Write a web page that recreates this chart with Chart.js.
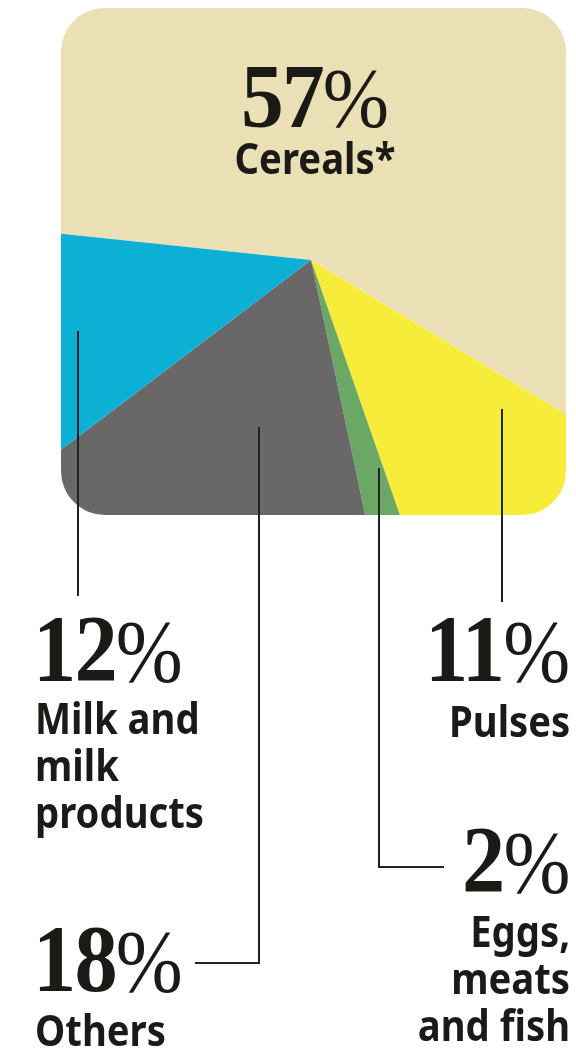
<!DOCTYPE html>
<html>
<head>
<meta charset="utf-8">
<script src="https://cdn.jsdelivr.net/npm/chart.js@4"></script>
<style>
  html, body { margin: 0; padding: 0; background: #fff; }
  #page { position: relative; width: 576px; height: 1051px; overflow: hidden; }
  #pieClip { position: absolute; left: 61px; top: 8px; width: 505px; height: 507px;
             border-radius: 44px; overflow: hidden; }
  #pieCanvas { position: absolute; left: -130px; top: -128px; }
  .line { position: absolute; background: #222; }
  .num { position: absolute; font-family: "Liberation Serif", "DejaVu Serif", serif; font-weight: bold;
         color: #1b1a17; white-space: nowrap; letter-spacing: -2px; }
  .num .pc { font-weight: normal; font-size: 0.93em; letter-spacing: 0; }
  .txt { position: absolute; font-family: "Noto Sans", "Open Sans", sans-serif; font-weight: bold;
         color: #1b1a17; font-size: 43px; line-height: 47px; white-space: nowrap; }
  .left { transform-origin: left top; text-align: left; }
  .right { transform-origin: right top; text-align: right; }
  .center { transform-origin: center top; text-align: center; }
</style>
</head>
<body>
<div id="page">
  <div id="pieClip"><canvas id="pieCanvas" width="760" height="760"></canvas></div>
  <div id="labels"></div>
</div>
<script>
// datos del gráfico
const categories = ['Cereals*', 'Pulses', 'Eggs, meats and fish', 'Others', 'Milk and milk products'];
const shares = [57, 11, 2, 18, 12];
const sliceColors = ['#ebdfb5', '#f8ec3a', '#6ba866', '#696767', '#0db0d5'];
const labelLines = [['Cereals*'], ['Pulses'], ['Eggs,', 'meats', 'and fish'], ['Others'], ['Milk and', 'milk', 'products']];

const ctx = document.getElementById('pieCanvas').getContext('2d');
const pieChart = new Chart(ctx, {
    type: 'pie',
    data: {
        labels: categories,
        datasets: [{
            data: shares,
            backgroundColor: sliceColors,
            borderWidth: 0
        }]
    },
    options: {
        responsive: false,
        animation: false,
        events: [],
        rotation: 276, // el cereal empieza a la izquierda
        plugins: {
            legend: { display: false },
            tooltip: { enabled: false }
        }
    }
});

// líneas guía (x, y1, y2) y tramos horizontales
const page = document.getElementById('page');
function vLine(x, y1, y2) {
    const d = document.createElement('div');
    d.className = 'line';
    d.style.left = (x - 1) + 'px';
    d.style.top = y1 + 'px';
    d.style.width = '2px';
    d.style.height = (y2 - y1) + 'px';
    page.appendChild(d);
}
function hLine(x1, x2, y) {
    const d = document.createElement('div');
    d.className = 'line';
    d.style.left = x1 + 'px';
    d.style.top = (y - 1) + 'px';
    d.style.width = (x2 - x1) + 'px';
    d.style.height = '2px';
    page.appendChild(d);
}
vLine(78, 331, 596);   // leche
vLine(259, 427, 964);  // otros
hLine(195, 260, 963);
vLine(379, 468, 868);  // huevos
hLine(379, 444, 867);
vLine(502, 409, 602);  // legumbres

// etiquetas
function addLabel(i, opts) {
    const n = document.createElement('div');
    n.className = 'num ' + opts.align;
    n.innerHTML = shares[i] + '<span class="pc">%</span>';
    n.style.fontSize = opts.size + 'px';
    n.style.lineHeight = opts.size + 'px';
    n.style.top = opts.numTop + 'px';
    n.style.transform = 'scaleX(' + opts.sx + ')';
    const t = document.createElement('div');
    t.className = 'txt ' + opts.align;
    t.innerHTML = labelLines[i].join('<br>');
    t.style.top = opts.txtTop + 'px';
    t.style.transform = 'scaleX(0.89)';
    if (opts.align === 'left') {
        n.style.left = opts.x + 'px';
        t.style.left = (opts.x + 2) + 'px';
    } else if (opts.align === 'right') {
        n.style.right = (576 - opts.x) + 'px';
        t.style.right = (576 - opts.x) + 'px';
    } else {
        n.style.left = (opts.x - 200) + 'px';
        n.style.width = '400px';
        t.style.left = (opts.x - 200) + 'px';
        t.style.width = '400px';
    }
    page.appendChild(n);
    page.appendChild(t);
}
addLabel(0, { align: 'center', x: 315, size: 90, numTop: 52, txtTop: 134, sx: 0.95 });
addLabel(4, { align: 'left', x: 33, size: 96, numTop: 601, txtTop: 694, sx: 0.9 });
addLabel(3, { align: 'left', x: 33, size: 96, numTop: 911, txtTop: 1006, sx: 0.9 });
addLabel(1, { align: 'right', x: 570, size: 96, numTop: 601, txtTop: 697, sx: 0.9 });
addLabel(2, { align: 'right', x: 570, size: 96, numTop: 812, txtTop: 907, sx: 0.9 });
</script>
</body>
</html>
